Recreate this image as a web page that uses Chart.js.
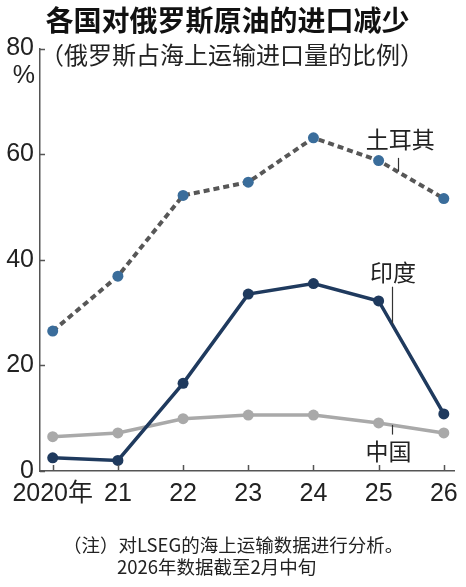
<!DOCTYPE html>
<html>
<head>
<meta charset="utf-8">
<script src="https://cdn.jsdelivr.net/npm/chart.js@4.4.1/dist/chart.umd.min.js"></script>
<style>
  html, body { margin: 0; padding: 0; background: #fff; }
</style>
</head>
<body>
<canvas id="oil-chart" width="466" height="587"></canvas>
<script>
// DATA
const years = [2020, 2021, 2022, 2023, 2024, 2025, 2026]
const turkeyShare = [26.5, 36.9, 52.2, 54.7, 63.1, 58.8, 51.6]
const indiaShare = [2.5, 2.0, 16.6, 33.5, 35.5, 32.2, 10.8]
const chinaShare = [6.5, 7.2, 9.9, 10.6, 10.6, 9.1, 7.2]
const yTicks = [0, 20, 40, 60, 80]

const titleText = "各国对俄罗斯原油的进口减少"
const subtitleText = "（俄罗斯占海上运输进口量的比例）"
const noteLines = ["（注）对LSEG的海上运输数据进行分析。", "2026年数据截至2月中旬"]

const axisColor = "#555"
const textColor = "#222"
const cjk = "'Noto Sans CJK SC', sans-serif"
const num = "'Liberation Sans', 'Noto Sans CJK SC', sans-serif"

// series name labels, placed in data units, leader line toward its series
const seriesLabels = [
  { text: "土耳其", x: 2025.33, y: 62.9, lineX: 2025.29, from: 59.3, series: turkeyShare },
  { text: "印度", x: 2025.22, y: 37.7, lineX: 2025.2, from: 34.9, series: indiaShare },
  { text: "中国", x: 2025.15, y: 3.7, lineX: 2025.2, from: 6.9, series: chinaShare },
]

function valueAt(series, xv) {
  const i = Math.floor(xv - years[0])
  const t = xv - years[i]
  return series[i] + (series[i + 1] - series[i]) * t
}

const annotations = {
  id: "annotations",
  afterDraw(chart) {
    const { ctx, scales: { x, y } } = chart
    ctx.save()

    // inward tick marks
    ctx.strokeStyle = axisColor
    ctx.lineWidth = 1.5
    ctx.beginPath()
    y.ticks.forEach((t) => {
      const py = Math.round(y.getPixelForValue(t.value)) + 0.5
      ctx.moveTo(x.left, py)
      ctx.lineTo(x.left + 5, py)
    })
    x.ticks.forEach((t) => {
      const px = Math.round(x.getPixelForValue(t.value)) + 0.5
      ctx.moveTo(px, y.bottom)
      ctx.lineTo(px, y.bottom - 6)
    })
    ctx.stroke()

    // unit under the top tick
    ctx.fillStyle = textColor
    ctx.font = "25px " + num
    ctx.textAlign = "right"
    ctx.textBaseline = "middle"
    ctx.fillText("%", x.left - 5, y.getPixelForValue(80) + 28)

    // subtitle
    ctx.font = "24px " + cjk
    ctx.textAlign = "center"
    ctx.fillText(subtitleText, 232, y.top + 6)

    // series labels + leaders
    ctx.font = "23px " + cjk
    ctx.textAlign = "center"
    seriesLabels.forEach((s) => {
      ctx.fillText(s.text, x.getPixelForValue(s.x), y.getPixelForValue(s.y))
      const lx = Math.round(x.getPixelForValue(s.lineX)) + 0.5
      ctx.strokeStyle = "#333"
      ctx.lineWidth = 1.2
      ctx.beginPath()
      ctx.moveTo(lx, y.getPixelForValue(s.from))
      ctx.lineTo(lx, y.getPixelForValue(valueAt(s.series, s.lineX)))
      ctx.stroke()
    })

    // footnote
    ctx.font = "18.5px " + cjk
    ctx.textAlign = "left"
    ctx.fillText(noteLines[0], 63, 545)
    ctx.fillText(noteLines[1], 117, 567)

    ctx.restore()
  },
}

const oilCanvas = document.getElementById("oil-chart")

const oilData = {
  labels: years,
  datasets: [
    {
      label: "印度",
      data: indiaShare,
      borderColor: "#1f3a5e",
      backgroundColor: "#1f3a5e",
      borderWidth: 3.5,
      pointRadius: 5.5,
      pointBorderWidth: 0,
    },
    {
      label: "中国",
      data: chinaShare,
      borderColor: "#a9a9a9",
      backgroundColor: "#a9a9a9",
      borderWidth: 3.5,
      pointRadius: 5.5,
      pointBorderWidth: 0,
    },
    {
      label: "土耳其",
      data: turkeyShare,
      borderColor: "#575757",
      backgroundColor: "#3a6d9b",
      borderWidth: 4,
      borderDash: [6, 4],
      pointRadius: 5.5,
      pointBorderWidth: 0,
    },
  ],
}

const oilOptions = {
  responsive: false,
  animation: false,
  layout: {
    padding: { left: 0, right: 11, top: 0, bottom: 70 },
  },
  scales: {
    x: {
      type: "linear",
      min: 2019.805,
      max: 2026.164,
      afterBuildTicks(scale) {
        scale.ticks = years.map((v) => ({ value: v }))
      },
      grid: { display: false, drawTicks: false },
      border: { display: true, color: axisColor, width: 1.5 },
      ticks: {
        padding: 8,
        autoSkip: false,
        color: textColor,
        font: { family: num, size: 25, lineHeight: 1.2 },
        maxRotation: 0,
        callback: (v) => (v === years[0] ? v + "年" : String(v).slice(2)),
      },
    },
    y: {
      min: 0,
      max: 80,
      afterBuildTicks(scale) {
        scale.ticks = yTicks.map((v) => ({ value: v }))
      },
      afterFit(scale) {
        scale.width = 40
      },
      grid: { display: false, drawTicks: false },
      border: { display: true, color: axisColor, width: 1.5 },
      ticks: {
        padding: 6,
        color: textColor,
        font: { family: num, size: 25, lineHeight: 1.2 },
      },
    },
  },
  plugins: {
    legend: { display: false },
    tooltip: { enabled: false },
    title: {
      display: true,
      text: titleText,
      color: "#111",
      font: { family: cjk, size: 28, weight: "bold", lineHeight: 1.2 },
      padding: { top: 4, bottom: 11 },
    },
  },
}

let oilChart = new Chart(oilCanvas, {
  type: "line",
  data: oilData,
  options: oilOptions,
  plugins: [annotations],
})
</script>
</body>
</html>
